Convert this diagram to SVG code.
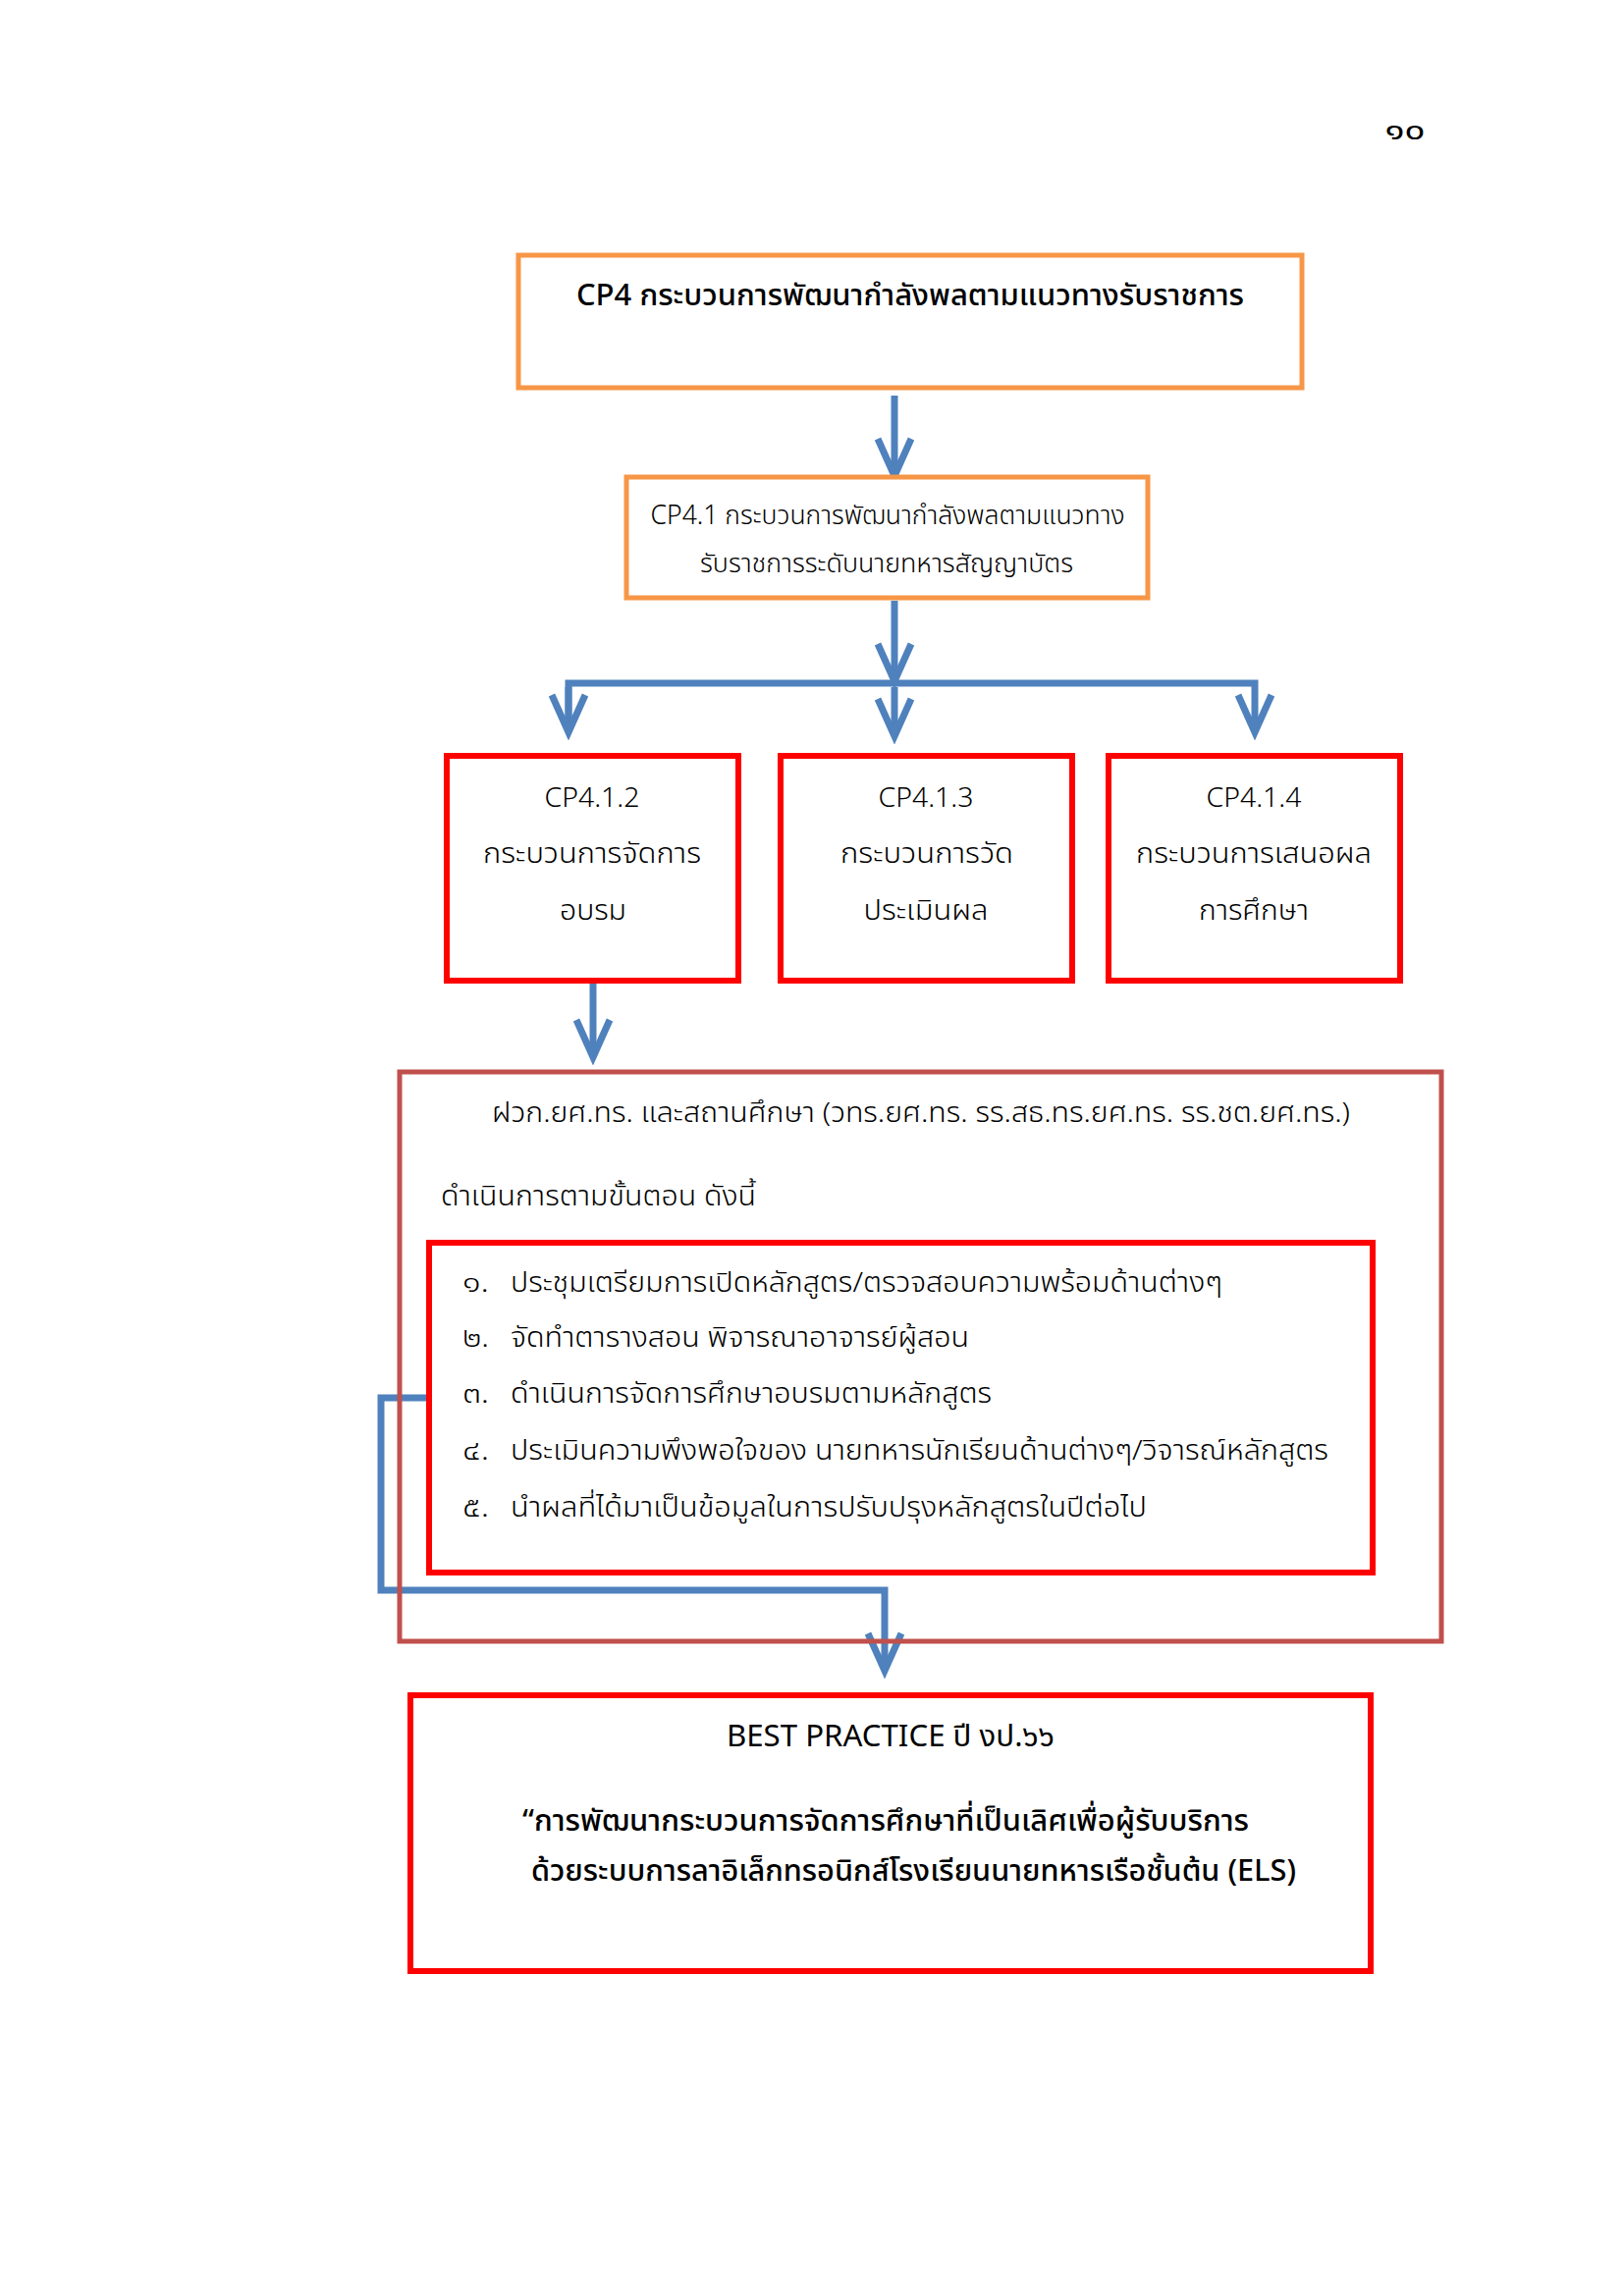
<svg xmlns="http://www.w3.org/2000/svg" width="1654" height="2339" viewBox="0 0 1654 2339">
<style>
  text { font-family: "Noto Sans Thai", "Noto Sans", "Liberation Sans", sans-serif; fill: #000; }
  .t1 { font-size: 30px; font-weight: 500; }
  .t2 { font-size: 27px; font-weight: 300; }
  .t3 { font-size: 28px; font-weight: 300; }
  .tb { font-size: 30px; font-weight: 400; }
  .tq { font-size: 30px; font-weight: 500; }
  .c { text-anchor: middle; }
  .orange { fill: #fff; stroke: #F79646; stroke-width: 5; }
  .red { fill: #fff; stroke: #FF0000; stroke-width: 6; }
  .brown { fill: none; stroke: #C0504D; stroke-width: 5; }
  .conn { fill: none; stroke: #4F81BD; stroke-width: 7; }
</style>
<defs>
  <marker id="arr" markerUnits="userSpaceOnUse" viewBox="-6 -26 52 52" markerWidth="52" markerHeight="52" refX="38" refY="0" orient="auto">
    <path d="M0,-17 L38,0 L0,17" fill="none" stroke="#4F81BD" stroke-width="7"/>
  </marker>
</defs>
<rect width="1654" height="2339" fill="#fff"/>

<text id="page" x="1431" y="142" class="c" style="font-size:28px" textLength="41" lengthAdjust="spacingAndGlyphs">๑๐</text>

<g id="connectors">
  <line class="conn" x1="911" y1="403" x2="911" y2="485" marker-end="url(#arr)"/>
  <line class="conn" x1="911" y1="612" x2="911" y2="694" marker-end="url(#arr)"/>
  <polyline class="conn" points="579,746 579,696 1278,696 1278,746" marker-end="url(#arr)"/>
  <line class="conn" x1="579" y1="700" x2="579" y2="746" marker-end="url(#arr)"/>
  <line class="conn" x1="911" y1="700" x2="911" y2="750" marker-end="url(#arr)"/>
  <line class="conn" x1="604" y1="1000" x2="604" y2="1077" marker-end="url(#arr)"/>
  <path class="conn" d="M437,1424 H388 V1620 H901 V1702" marker-end="url(#arr)"/>
</g>

<g id="cp4">
  <rect class="orange" x="528" y="260" width="798" height="135"/>
  <text class="t1 c" x="927" y="311" textLength="680" lengthAdjust="spacingAndGlyphs">CP4 กระบวนการพัฒนากำลังพลตามแนวทางรับราชการ</text>
</g>

<g id="cp41">
  <rect class="orange" x="638" y="486" width="531" height="123"/>
  <text class="t2 c" x="904" y="534" textLength="483" lengthAdjust="spacingAndGlyphs">CP4.1 กระบวนการพัฒนากำลังพลตามแนวทาง</text>
  <text class="t2 c" x="903" y="583" textLength="380" lengthAdjust="spacingAndGlyphs">รับราชการระดับนายทหารสัญญาบัตร</text>
</g>

<g id="cp412">
  <rect class="red" x="455" y="770" width="297" height="229"/>
  <text class="t3 c" x="603" y="822" textLength="97" lengthAdjust="spacingAndGlyphs">CP4.1.2</text>
  <text class="t3 c" x="603" y="879" textLength="222" lengthAdjust="spacingAndGlyphs">กระบวนการจัดการ</text>
  <text class="t3 c" x="604" y="937" textLength="68" lengthAdjust="spacingAndGlyphs">อบรม</text>
</g>

<g id="cp413">
  <rect class="red" x="795" y="770" width="297" height="229"/>
  <text class="t3 c" x="943" y="822" textLength="97" lengthAdjust="spacingAndGlyphs">CP4.1.3</text>
  <text class="t3 c" x="944" y="879" textLength="176" lengthAdjust="spacingAndGlyphs">กระบวนการวัด</text>
  <text class="t3 c" x="943" y="937" textLength="127" lengthAdjust="spacingAndGlyphs">ประเมินผล</text>
</g>

<g id="cp414">
  <rect class="red" x="1129" y="770" width="297" height="229"/>
  <text class="t3 c" x="1277" y="822" textLength="97" lengthAdjust="spacingAndGlyphs">CP4.1.4</text>
  <text class="t3 c" x="1277" y="879" textLength="240" lengthAdjust="spacingAndGlyphs">กระบวนการเสนอผล</text>
  <text class="t3 c" x="1277" y="937" textLength="112" lengthAdjust="spacingAndGlyphs">การศึกษา</text>
</g>

<g id="process">
  <rect class="brown" x="407" y="1092" width="1061" height="580"/>
  <text class="t3 c" x="938" y="1143" textLength="874" lengthAdjust="spacingAndGlyphs">ฝวก.ยศ.ทร. และสถานศึกษา (วทร.ยศ.ทร. รร.สธ.ทร.ยศ.ทร. รร.ชต.ยศ.ทร.)</text>
  <text class="t3" x="449" y="1228" textLength="321" lengthAdjust="spacingAndGlyphs">ดำเนินการตามขั้นตอน ดังนี้</text>
</g>

<g id="steps">
  <rect class="red" x="437" y="1266" width="961" height="336"/>
  <text class="t3" x="471" y="1316" textLength="27" lengthAdjust="spacingAndGlyphs">๑.</text>
  <text class="t3" x="520" y="1316" textLength="725" lengthAdjust="spacingAndGlyphs">ประชุมเตรียมการเปิดหลักสูตร/ตรวจสอบความพร้อมด้านต่างๆ</text>
  <text class="t3" x="471" y="1372" textLength="27" lengthAdjust="spacingAndGlyphs">๒.</text>
  <text class="t3" x="520" y="1372" textLength="467" lengthAdjust="spacingAndGlyphs">จัดทำตารางสอน พิจารณาอาจารย์ผู้สอน</text>
  <text class="t3" x="471" y="1429" textLength="27" lengthAdjust="spacingAndGlyphs">๓.</text>
  <text class="t3" x="520" y="1429" textLength="490" lengthAdjust="spacingAndGlyphs">ดำเนินการจัดการศึกษาอบรมตามหลักสูตร</text>
  <text class="t3" x="471" y="1487" textLength="27" lengthAdjust="spacingAndGlyphs">๔.</text>
  <text class="t3" x="520" y="1487" textLength="833" lengthAdjust="spacingAndGlyphs">ประเมินความพึงพอใจของ นายทหารนักเรียนด้านต่างๆ/วิจารณ์หลักสูตร</text>
  <text class="t3" x="471" y="1545" textLength="27" lengthAdjust="spacingAndGlyphs">๕.</text>
  <text class="t3" x="520" y="1545" textLength="648" lengthAdjust="spacingAndGlyphs">นำผลที่ได้มาเป็นข้อมูลในการปรับปรุงหลักสูตรในปีต่อไป</text>
</g>

<g id="best">
  <rect class="red" x="418" y="1727" width="978" height="281"/>
  <text class="tb c" x="907" y="1779" textLength="334" lengthAdjust="spacingAndGlyphs">BEST PRACTICE ปี งป.๖๖</text>
  <text class="tq" x="532" y="1865" textLength="740" lengthAdjust="spacingAndGlyphs">“การพัฒนากระบวนการจัดการศึกษาที่เป็นเลิศเพื่อผู้รับบริการ</text>
  <text class="tq" x="541" y="1916" textLength="779" lengthAdjust="spacingAndGlyphs">ด้วยระบบการลาอิเล็กทรอนิกส์โรงเรียนนายทหารเรือชั้นต้น (ELS)</text>
</g>
</svg>
